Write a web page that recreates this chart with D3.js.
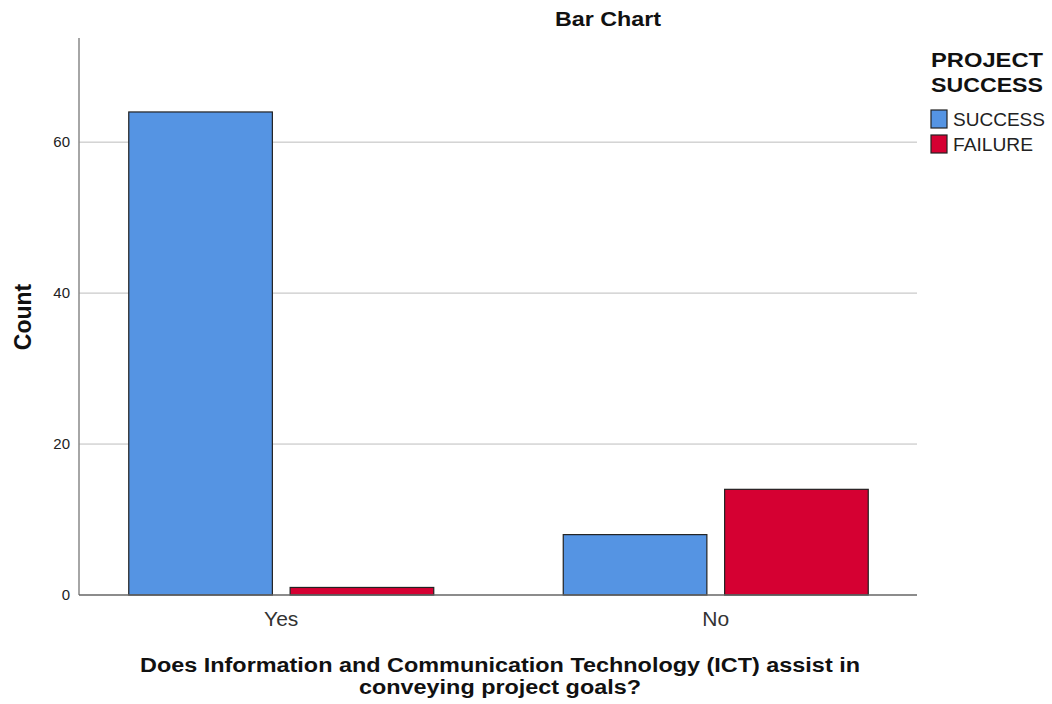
<!DOCTYPE html>
<html>
<head>
<meta charset="utf-8">
<script src="https://cdn.jsdelivr.net/npm/d3@7"></script>
<style>
body { margin: 0; background: #fff; font-family: Arial, "Liberation Sans", sans-serif; }
</style>
</head>
<body>
<div id="chart"></div>
<script>
let categories = ["Yes", "No"];
let seriesNames = ["SUCCESS", "FAILURE"];
let successCounts = [64, 8];
let failureCounts = [1, 14];
let yTicks = [0, 20, 40, 60];
let colors = { SUCCESS: "#5594e3", FAILURE: "#d50032" };

let width = 1052, height = 704;
let svg = d3.select("#chart").append("svg")
    .attr("width", width)
    .attr("height", height);

let plotLeft = 79, plotRight = 917, plotTop = 38, plotBottom = 595;

let x = d3.scaleBand().domain(categories).range([64, 933]).padding(0);
let xInner = d3.scaleBand().domain(seriesNames).range([-152.5, 152.5]).paddingInner(0.11);
let y = d3.scaleLinear().domain([0, 73.8]).range([plotBottom, plotTop]);

// gridlines
svg.selectAll(".grid")
    .data(yTicks.filter(t => t > 0))
    .enter()
    .append("line")
    .attr("x1", plotLeft)
    .attr("x2", plotRight)
    .attr("y1", d => y(d))
    .attr("y2", d => y(d))
    .attr("stroke", "#bdbdbd")
    .attr("stroke-width", 1);

// y tick labels
svg.selectAll(".ytick")
    .data(yTicks)
    .enter()
    .append("text")
    .attr("x", plotLeft - 9)
    .attr("y", d => y(d) + 5)
    .attr("text-anchor", "end")
    .attr("font-size", 15)
    .attr("fill", "#222")
    .text(d => d);

// bars
let rows = categories.map((c, i) => ({ cat: c, values: [
    { key: "SUCCESS", value: successCounts[i] },
    { key: "FAILURE", value: failureCounts[i] }
]}));

let groups = svg.selectAll(".group")
    .data(rows)
    .enter()
    .append("g")
    .attr("transform", d => `translate(${x(d.cat) + x.bandwidth() / 2},0)`);

groups.selectAll("rect")
    .data(d => d.values)
    .enter()
    .append("rect")
    .attr("x", d => xInner(d.key))
    .attr("width", xInner.bandwidth())
    .attr("y", d => y(d.value))
    .attr("height", d => y(0) - y(d.value))
    .attr("fill", d => colors[d.key])
    .attr("stroke", "#222")
    .attr("stroke-width", 1.2);

// axes lines
svg.append("line")
    .attr("x1", plotLeft).attr("x2", plotLeft)
    .attr("y1", plotTop).attr("y2", plotBottom)
    .attr("stroke", "#888").attr("stroke-width", 1.5);
svg.append("line")
    .attr("x1", plotLeft).attr("x2", plotRight)
    .attr("y1", plotBottom).attr("y2", plotBottom)
    .attr("stroke", "#666").attr("stroke-width", 1.5);

// category labels
svg.selectAll(".xtick")
    .data(categories)
    .enter()
    .append("text")
    .attr("x", d => x(d) + x.bandwidth() / 2)
    .attr("y", 626)
    .attr("text-anchor", "middle")
    .attr("font-size", 21)
    .attr("fill", "#333")
    .text(d => d);

// title
svg.append("text")
    .attr("x", 608).attr("y", 26)
    .attr("text-anchor", "middle")
    .attr("font-size", 20)
    .attr("font-weight", "bold")
    .attr("fill", "#111")
    .attr("textLength", 106)
    .attr("lengthAdjust", "spacingAndGlyphs")
    .text("Bar Chart");

// y label
svg.append("text")
    .attr("transform", "translate(31,317) rotate(-90)")
    .attr("text-anchor", "middle")
    .attr("font-size", 23)
    .attr("font-weight", "bold")
    .attr("fill", "#111")
    .text("Count");

// x label
svg.append("text")
    .attr("x", 500).attr("y", 672)
    .attr("text-anchor", "middle")
    .attr("font-size", 20)
    .attr("font-weight", "bold")
    .attr("fill", "#111")
    .attr("textLength", 720)
    .attr("lengthAdjust", "spacingAndGlyphs")
    .text("Does Information and Communication Technology (ICT) assist in");
svg.append("text")
    .attr("x", 500).attr("y", 694)
    .attr("text-anchor", "middle")
    .attr("font-size", 20)
    .attr("font-weight", "bold")
    .attr("fill", "#111")
    .attr("textLength", 282)
    .attr("lengthAdjust", "spacingAndGlyphs")
    .text("conveying project goals?");

// legend
["PROJECT", "SUCCESS"].forEach((t, i) => {
    svg.append("text")
        .attr("x", 931).attr("y", 67 + i * 25)
        .attr("font-size", 20)
        .attr("font-weight", "bold")
        .attr("fill", "#111")
        .attr("textLength", 112)
        .attr("lengthAdjust", "spacingAndGlyphs")
        .text(t);
});

let legend = svg.selectAll(".legend")
    .data(seriesNames)
    .enter()
    .append("g")
    .attr("transform", (d, i) => `translate(931,${110 + i * 25})`);

legend.append("rect")
    .attr("width", 16)
    .attr("height", 18)
    .attr("fill", d => colors[d])
    .attr("stroke", "#222")
    .attr("stroke-width", 1.2);

legend.append("text")
    .attr("x", 22)
    .attr("y", 16)
    .attr("font-size", 18)
    .attr("fill", "#222")
    .attr("textLength", d => d === "SUCCESS" ? 92 : 80)
    .attr("lengthAdjust", "spacingAndGlyphs")
    .text(d => d);
</script>
</body>
</html>
